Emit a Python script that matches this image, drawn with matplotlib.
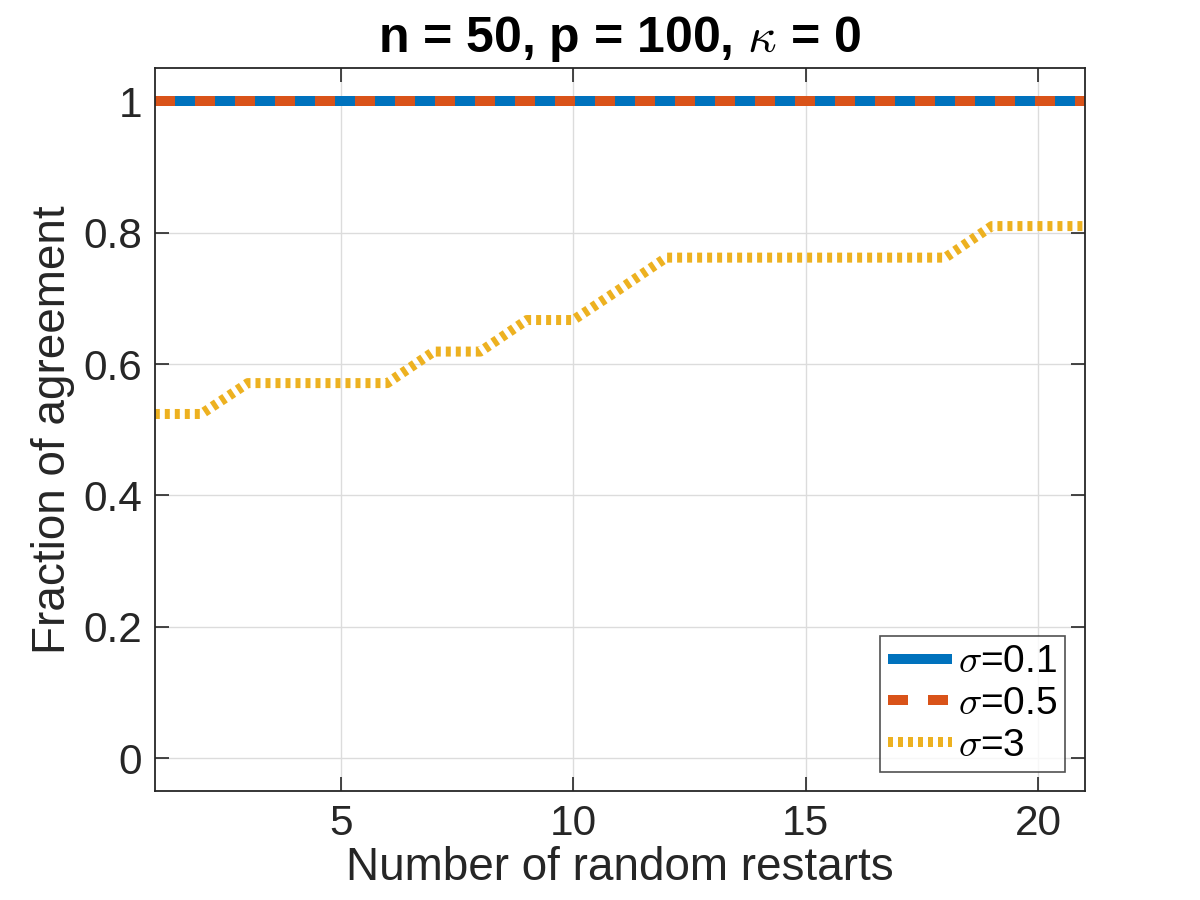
import numpy as np
import matplotlib.pyplot as plt

plt.rcParams['font.family'] = ['Liberation Sans', 'DejaVu Sans']
plt.rcParams['mathtext.fontset'] = 'cm'

# number of random restarts
restarts = np.arange(1, 22)
# fraction of agreement for each noise level
agree_01 = [1.0] * 21
agree_05 = [1.0] * 21
agree_3 = [0.524, 0.524, 0.571, 0.571, 0.571, 0.571, 0.619, 0.619, 0.667, 0.667,
           0.714, 0.762, 0.762, 0.762, 0.762, 0.762, 0.762, 0.762, 0.810, 0.810, 0.810]

blue = '#0072BD'
orange = '#D95319'
yellow = '#EDB120'
dark = '#262626'

fig = plt.figure(figsize=(12, 9), dpi=100)
ax = fig.add_axes([0.129, 0.121, 0.775, 0.803])

lw = 7.2
ax.plot(restarts, agree_01, color=blue, lw=lw, solid_capstyle='butt', label=r'$\sigma$=0.1')
ax.plot(restarts, agree_05, color=orange, lw=lw, linestyle=(0, (2, 2)),
        dash_capstyle='butt', label=r'$\sigma$=0.5')
ax.plot(restarts, agree_3, color=yellow, lw=lw, linestyle=(0, (0.5, 0.5)),
        dash_capstyle='butt', label=r'$\sigma$=3')

ax.set_xlim(1, 21)
ax.set_ylim(-0.05, 1.05)
ax.set_xticks([5, 10, 15, 20])
ax.set_yticks([0, 0.2, 0.4, 0.6, 0.8, 1])
ax.set_yticklabels(['0', '0.2', '0.4', '0.6', '0.8', '1'])

ax.grid(True, color='#dcdcdc', linewidth=1)
ax.set_axisbelow(True)
ax.tick_params(direction='in', length=10, width=1.2, colors=dark, labelsize=30.5,
               top=True, right=True, pad=9)
for s in ax.spines.values():
    s.set_color(dark)
    s.set_linewidth(1.3)

ax.set_xlabel('Number of random restarts', fontsize=33, color=dark, labelpad=2)
ax.set_ylabel('Fraction of agreement', fontsize=33, color=dark, labelpad=6)
ax.set_title(r'n = 50, p = 100, $\kappa$ = 0', fontsize=36, fontweight='bold', pad=12)

leg = ax.legend(loc='lower right', fontsize=28, frameon=True, fancybox=False,
                edgecolor=dark, handlelength=1.65, handletextpad=0.15,
                borderpad=0.2, labelspacing=0.15, borderaxespad=0.5)
leg.get_frame().set_linewidth(1.2)

fig.savefig('out.png', dpi=100)
